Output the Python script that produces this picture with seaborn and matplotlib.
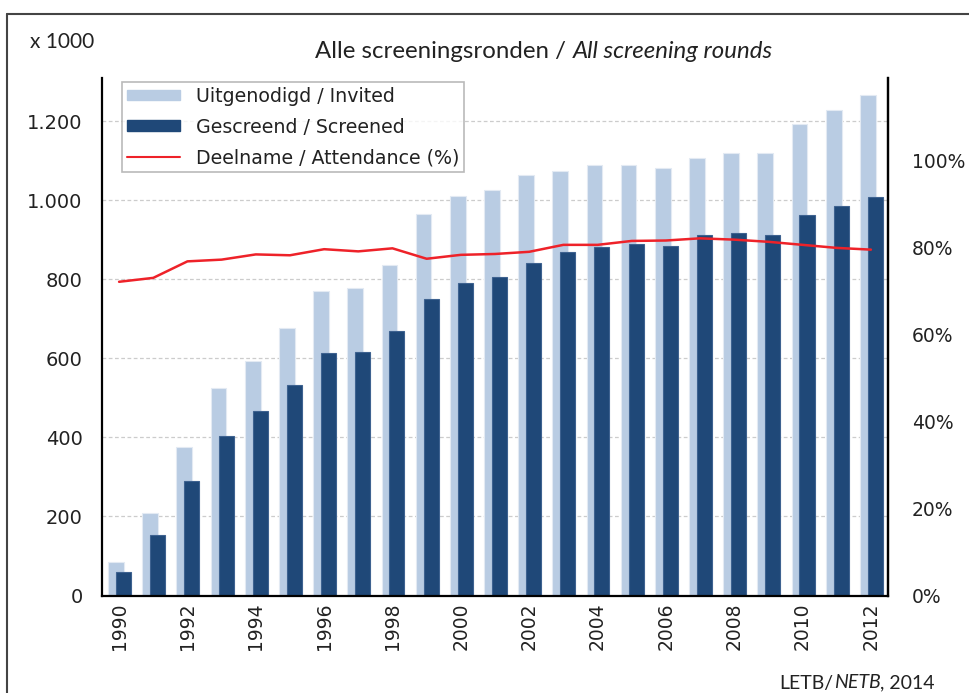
import numpy as np
import pandas as pd
import matplotlib
matplotlib.use("Agg")
import matplotlib.pyplot as plt
import seaborn as sns
from matplotlib.patches import Patch
from matplotlib.lines import Line2D

years = list(range(1990, 2013))
invited = [84, 210, 376, 525, 594, 678, 770, 778, 837, 966, 1011, 1026,
           1064, 1075, 1089, 1089, 1082, 1107, 1120, 1120, 1193, 1230, 1267]
screened = [60, 152, 289, 405, 466, 532, 615, 617, 669, 750, 792, 807,
            841, 870, 882, 890, 885, 912, 918, 912, 963, 986, 1008]
attendance = [72.2, 73.1, 76.9, 77.3, 78.5, 78.3, 79.7, 79.2, 79.9, 77.5, 78.4, 78.6,
              79.1, 80.7, 80.7, 81.6, 81.7, 82.2, 81.9, 81.4, 80.7, 80.0, 79.6]
left_ticks = [0, 200, 400, 600, 800, 1000, 1200]
right_ticks = [0, 20, 40, 60, 80, 100]
legend_labels = ["Uitgenodigd / Invited", "Gescreend / Screened", "Deelname / Attendance (%)"]

LIGHT = "#b9cce3"
DARK = "#1f4878"
RED = "#ee2229"

W, H = 969, 693

sns.set_style("white")
plt.rcParams["font.family"] = ["DejaVu Sans"]

df = pd.DataFrame({"year": years, "invited": invited, "screened": screened,
                   "attendance": attendance})

fig = plt.figure(figsize=(W / 100, H / 100), dpi=100)
ax = fig.add_axes([102 / W, 1 - 595.5 / H, (888 - 102) / W, (595.5 - 78) / H])

# two overlapping bar series, light one shifted left
sns.barplot(x=df["year"] - 0.09, y=df["invited"], native_scale=True, width=0.46,
            color=LIGHT, saturation=1, edgecolor="#e3eaf3", linewidth=0.8, ax=ax)
sns.barplot(x=df["year"] + 0.13, y=df["screened"], native_scale=True, width=0.44,
            color=DARK, saturation=1, edgecolor="#3e6290", linewidth=0.8, ax=ax)

ax.set_xlim(1989.5, 2012.5)
ax.set_ylim(0, 1310)
ax.set_xlabel("")
ax.set_ylabel("")
ax.yaxis.grid(True, linestyle=(0, (3, 2)), color="#cccccc", linewidth=0.9)
ax.set_axisbelow(True)

ax.set_yticks(left_ticks)
ax.set_yticklabels([f"{v:,}".replace(",", ".") for v in left_ticks])
ax.tick_params(axis="y", length=0, pad=14, labelsize=14, colors="#222222")

even = [y for y in years if y % 2 == 0]
ax.set_xticks(even)
ax.set_xticklabels([str(y) for y in even], rotation=90)
ax.tick_params(axis="x", which="major", length=0, pad=5, labelsize=13.5, colors="#222222")
ax.set_xticks(np.arange(1989.5, 2013, 1), minor=True)
ax.tick_params(axis="x", which="minor", length=6, width=1.2, direction="out", color="black")

ax.spines["top"].set_visible(False)
for s in ["left", "bottom", "right"]:
    ax.spines[s].set_color("black")
    ax.spines[s].set_linewidth(1.6)

ax2 = ax.twinx()
sns.lineplot(x=df["year"], y=df["attendance"], color=RED, linewidth=1.8, ax=ax2)
ax2.set_ylim(0, 119.1)
ax2.set_ylabel("")
ax2.set_yticks(right_ticks)
ax2.set_yticklabels([f"{v}%" for v in right_ticks])
ax2.tick_params(axis="y", length=0, pad=17, labelsize=13.5, colors="#222222")
ax2.spines["top"].set_visible(False)
ax2.spines["left"].set_visible(False)
ax2.spines["bottom"].set_visible(False)
ax2.spines["right"].set_color("black")
ax2.spines["right"].set_linewidth(1.6)

handles = [Patch(facecolor=LIGHT, edgecolor=LIGHT),
           Patch(facecolor=DARK, edgecolor=DARK),
           Line2D([], [], color=RED, linewidth=1.5)]
leg = ax2.legend(handles, legend_labels, loc="upper left",
                 bbox_to_anchor=(122 / W, 1 - 82 / H), bbox_transform=fig.transFigure,
                 frameon=True, fancybox=False, edgecolor="#a8a8a8", fontsize=13.7,
                 handlelength=2.8, handleheight=0.5, labelspacing=0.62,
                 borderpad=0.25, handletextpad=0.85, borderaxespad=0)
leg.get_frame().set_linewidth(1.2)
for t in leg.get_texts():
    t.set_color("#222222")


def run_text(parts, x, y, align, size):
    renderer = fig.canvas.get_renderer()
    texts = [fig.text(0, 0, s, style=st, family="Lato", fontsize=size,
                      color="#222222", va="center", ha="left") for s, st in parts]
    widths = [t.get_window_extent(renderer).width for t in texts]
    total = sum(widths)
    start = x - total if align == "right" else (x - total / 2 if align == "center" else x)
    for t, w in zip(texts, widths):
        t.set_position((start / W, 1 - y / H))
        start += w


run_text([("Alle screeningsronden / ", "normal"), ("All screening rounds", "italic")],
         544, 52, "center", 17.3)
run_text([("x 1000", "normal")], 30, 42, "left", 15)
run_text([("LETB/", "normal"), ("NETB", "italic"), (", 2014", "normal")],
         935, 683, "right", 14)

# outer frame (top and left edges visible)
fig.add_artist(Line2D([7 / W, 1], [1 - 14 / H, 1 - 14 / H], transform=fig.transFigure,
                      color="#444444", linewidth=1.5))
fig.add_artist(Line2D([7 / W, 7 / W], [0, 1 - 14 / H], transform=fig.transFigure,
                      color="#444444", linewidth=1.5))

fig.savefig("out.png", dpi=100)
